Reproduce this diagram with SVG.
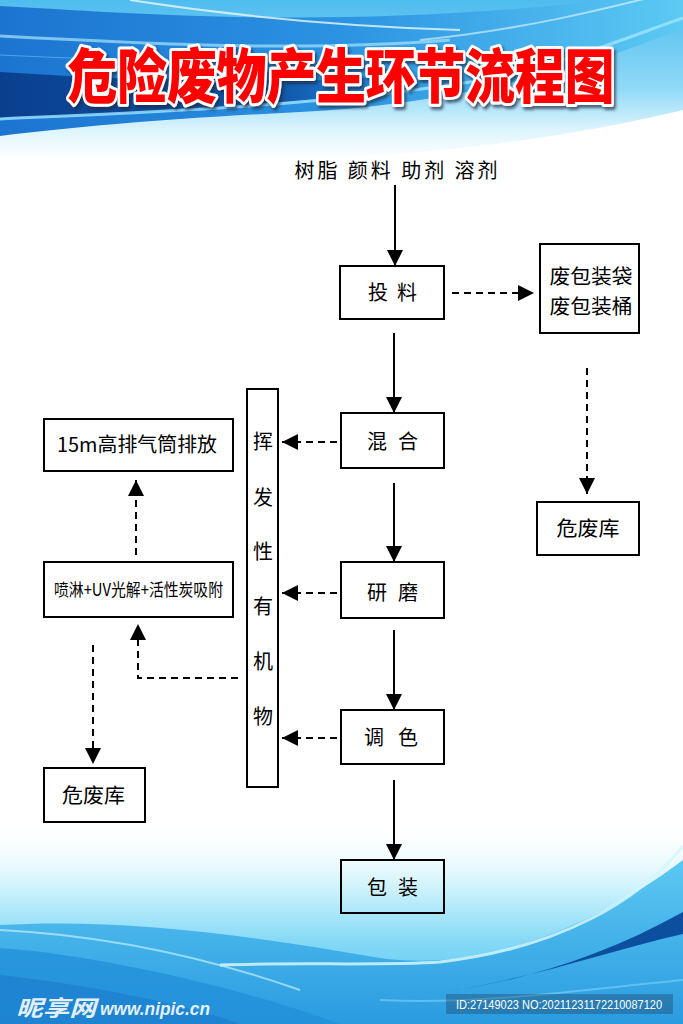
<svg xmlns="http://www.w3.org/2000/svg" width="683" height="1024" viewBox="0 0 683 1024">
<defs>
<linearGradient id="topSky" x1="0" y1="0" x2="0" y2="1">
<stop offset="0" stop-color="#4fbcee"/>
<stop offset="0.55" stop-color="#8fd9f7"/>
<stop offset="0.82" stop-color="#dff5fd"/>
<stop offset="1" stop-color="#ffffff"/>
</linearGradient>
<linearGradient id="band" x1="0" y1="0" x2="1" y2="0">
<stop offset="0" stop-color="#1c74d0"/>
<stop offset="0.5" stop-color="#2b93e2"/>
<stop offset="1" stop-color="#5ccaf3"/>
</linearGradient>
<linearGradient id="core" x1="0" y1="0" x2="1" y2="0">
<stop offset="0" stop-color="#0a3f8e"/>
<stop offset="0.6" stop-color="#1157aa"/>
<stop offset="1" stop-color="#1f7fd6" stop-opacity="0"/>
</linearGradient>
<linearGradient id="botSky" x1="0" y1="0" x2="0" y2="1">
<stop offset="0" stop-color="#ffffff" stop-opacity="0"/>
<stop offset="0.35" stop-color="#c9f1fc"/>
<stop offset="0.6" stop-color="#84d9f6"/>
<stop offset="1" stop-color="#45b9ee"/>
</linearGradient>
<linearGradient id="botBlue" x1="0" y1="0" x2="0" y2="1">
<stop offset="0" stop-color="#5cc8f2"/>
<stop offset="1" stop-color="#2a9be0"/>
</linearGradient>
<filter id="shadow" filterUnits="userSpaceOnUse" x="-320" y="-80" width="640" height="110">
<feDropShadow dx="2" dy="2.5" stdDeviation="1.5" flood-color="#1a2a40" flood-opacity="0.7"/>
</filter>
<marker id="arr" markerUnits="userSpaceOnUse" markerWidth="16" markerHeight="16" refX="16" refY="8" orient="auto">
<path d="M0,0 L16,8 L0,16 Z" fill="#000"/>
</marker>
<style>
.box{fill:none;stroke:#000;stroke-width:2}
.t{font-family:"Noto Sans CJK SC","Noto Sans",sans-serif;font-size:20px;fill:#000;text-anchor:middle}
.solid{fill:none;stroke:#000;stroke-width:2;marker-end:url(#arr)}
.dash{fill:none;stroke:#000;stroke-width:2;stroke-dasharray:7 5;marker-end:url(#arr)}
</style>
</defs>

<g id="background">
<rect x="0" y="0" width="683" height="1024" fill="#ffffff"/>
<path d="M0,0 H683 V110 C560,140 400,160 250,160 C150,160 60,158 0,156 Z" fill="url(#topSky)"/>
<path d="M0,6 C150,14 380,34 683,-10 L683,28 C560,80 420,106 300,112 C180,118 80,126 0,136 Z" fill="url(#band)"/>
<path d="M0,72 C150,82 320,86 470,70 C380,100 200,112 0,118 Z" fill="url(#core)"/>
<path d="M0,36 C150,44 300,52 450,40" fill="none" stroke="#a6e4fb" stroke-width="3" opacity="0.7"/>
<path d="M0,119 C150,112 320,106 470,82 C560,66 620,40 683,18" fill="none" stroke="#9fe5ff" stroke-width="3" opacity="0.8"/>
<path d="M130,0 C220,14 330,26 460,30" fill="none" stroke="#e6f8ff" stroke-width="2" opacity="0.8"/>
<path d="M420,40 C520,30 600,10 660,-5" fill="none" stroke="#e6f8ff" stroke-width="2" opacity="0.6"/>
<path d="M0,55 C150,62 300,66 430,58" fill="none" stroke="#5fb6ee" stroke-width="1" opacity="0.7"/>

<rect x="0" y="820" width="683" height="204" fill="url(#botSky)"/>
<path d="M0,925 C120,918 250,935 380,958 C480,972 590,930 683,860 V1024 H0 Z" fill="url(#botBlue)"/>
<path d="M0,948 C100,955 250,990 340,1024 H0 Z" fill="#2390da" opacity="0.8"/>
<path d="M0,975 C90,985 190,1005 240,1024 H0 Z" fill="#1a7ccc" opacity="0.6"/>
<path d="M683,912 C600,958 520,982 440,992 C530,980 610,950 683,934 Z" fill="#0c4f9f"/>
<path d="M683,846 C640,900 560,948 440,962 C380,966 300,962 220,965" fill="none" stroke="#d4f6ff" stroke-width="3" opacity="0.85"/>
<path d="M0,930 C100,935 200,955 300,990" fill="none" stroke="#bdeeff" stroke-width="2" opacity="0.7"/>
<path d="M380,1000 C480,1005 580,990 683,980" fill="none" stroke="#7fd2f7" stroke-width="2" opacity="0.6"/>
</g>

<g id="title">
<text transform="translate(341,98) scale(1,1.18)" x="0" y="0" text-anchor="middle" textLength="547" lengthAdjust="spacingAndGlyphs" font-family="'Noto Sans CJK SC',sans-serif" font-weight="900" font-size="50" fill="#ff0000" stroke="#ffffff" stroke-width="5" stroke-linejoin="round" paint-order="stroke" filter="url(#shadow)">危险废物产生环节流程图</text>
</g>

<g id="connectors">
<line class="solid" x1="395" y1="185" x2="395" y2="266"/>
<line class="solid" x1="394" y1="333" x2="394" y2="413"/>
<line class="solid" x1="394" y1="483" x2="394" y2="562"/>
<line class="solid" x1="394" y1="630" x2="394" y2="710"/>
<line class="solid" x1="394" y1="780" x2="394" y2="860"/>
<line class="dash" x1="452" y1="293" x2="534" y2="293"/>
<line class="dash" x1="587" y1="368" x2="587" y2="494"/>
<line class="dash" x1="337" y1="442" x2="282" y2="442"/>
<line class="dash" x1="337" y1="593" x2="282" y2="593"/>
<line class="dash" x1="337" y1="738" x2="282" y2="738"/>
<line class="dash" x1="136" y1="555" x2="136" y2="480"/>
<path class="dash" d="M238,678 H138 V624"/>
<line class="dash" x1="93" y1="645" x2="93" y2="764"/>
</g>

<g id="inputs">
<text class="t" x="396" y="178" textLength="203" lengthAdjust="spacing">树脂 颜料 助剂 溶剂</text>
</g>
<g id="toliao">
<rect class="box" x="340" y="266" width="104" height="53"/>
<text class="t" x="392.5" y="300" textLength="49" lengthAdjust="spacing">投 料</text>
</g>
<g id="feibaozhuang">
<rect class="box" x="540" y="244" width="99" height="89"/>
<text class="t" x="591" y="284" textLength="83" lengthAdjust="spacingAndGlyphs">废包装袋</text>
<text class="t" x="591" y="314" textLength="83" lengthAdjust="spacingAndGlyphs">废包装桶</text>
</g>
<g id="weifeiku-right">
<rect class="box" x="537" y="502" width="102" height="53"/>
<text class="t" x="588" y="536" textLength="63" lengthAdjust="spacingAndGlyphs">危废库</text>
</g>
<g id="hunhe">
<rect class="box" x="341" y="413" width="103" height="55"/>
<text class="t" x="392.5" y="449" textLength="51" lengthAdjust="spacing">混 合</text>
</g>
<g id="yanmo">
<rect class="box" x="341" y="562" width="103" height="56"/>
<text class="t" x="392.5" y="600" textLength="51" lengthAdjust="spacing">研 磨</text>
</g>
<g id="tiaose">
<rect class="box" x="341" y="710" width="103" height="54"/>
<text class="t" x="391" y="745" textLength="54" lengthAdjust="spacing">调 色</text>
</g>
<g id="baozhuang">
<rect class="box" x="341" y="860" width="103" height="53"/>
<text class="t" x="392.5" y="895" textLength="51" lengthAdjust="spacing">包 装</text>
</g>
<g id="voc">
<rect class="box" x="247" y="389" width="31" height="398"/>
<text class="t" x="263" y="449">挥</text>
<text class="t" x="263" y="505">发</text>
<text class="t" x="263" y="559">性</text>
<text class="t" x="263" y="614">有</text>
<text class="t" x="263" y="669">机</text>
<text class="t" x="263" y="724">物</text>
</g>
<g id="paiqitong">
<rect class="box" x="44" y="419" width="189" height="52"/>
<text class="t" x="137" y="452" textLength="160" lengthAdjust="spacingAndGlyphs">15m高排气筒排放</text>
</g>
<g id="treatment">
<rect class="box" x="44" y="562" width="189" height="55"/>
<text class="t" x="138.5" y="596" style="font-size:17px" textLength="169" lengthAdjust="spacingAndGlyphs">喷淋+UV光解+活性炭吸附</text>
</g>
<g id="weifeiku-left">
<rect class="box" x="44" y="768" width="101" height="54"/>
<text class="t" x="93.5" y="803" textLength="63" lengthAdjust="spacingAndGlyphs">危废库</text>
</g>

<g id="watermark">
<text x="16" y="1016" font-family="'Noto Sans CJK SC',sans-serif" font-weight="bold" font-style="italic" font-size="22" fill="#ffffff" fill-opacity="0.9" textLength="80" lengthAdjust="spacingAndGlyphs">昵享网</text>
<text x="100" y="1015" font-family="'Liberation Sans',sans-serif" font-weight="bold" font-style="italic" font-size="18" fill="#ffffff" fill-opacity="0.9" textLength="110" lengthAdjust="spacingAndGlyphs">www.nipic.cn</text>
<rect x="446" y="994" width="227" height="20" fill="#1a3a5a" fill-opacity="0.35"/>
<text x="456" y="1009" font-family="'Liberation Sans',sans-serif" font-size="12" fill="#ffffff" textLength="206" lengthAdjust="spacingAndGlyphs">ID:27149023 NO:20211231172210087120</text>
</g>
</svg>
